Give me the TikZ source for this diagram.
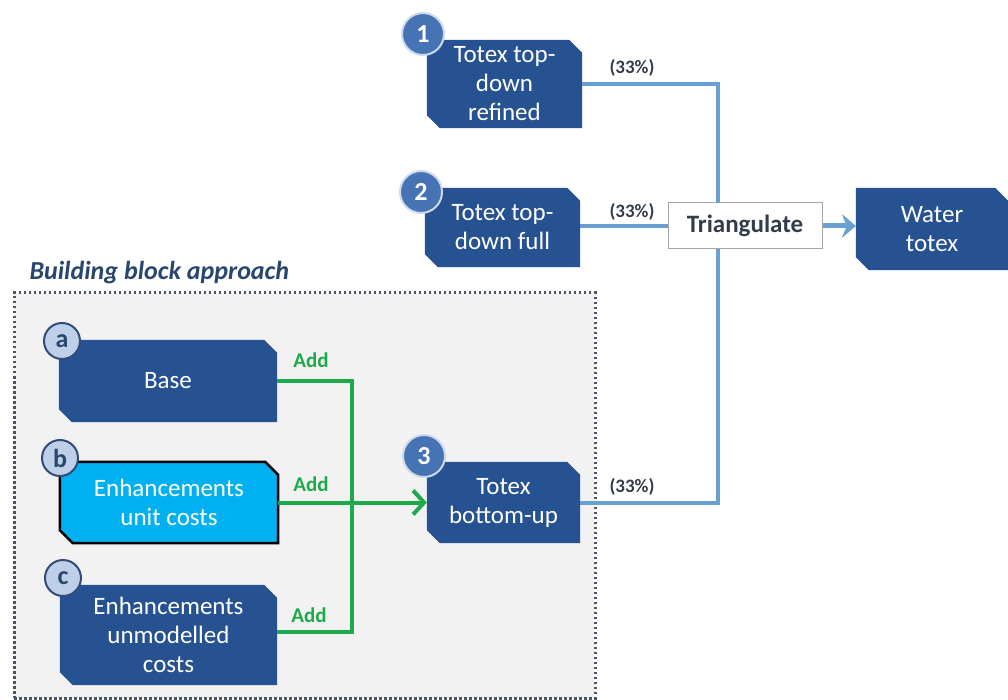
\documentclass[tikz,border=0pt]{standalone}
\usepackage{fontspec}
\setmainfont{Carlito}
\usetikzlibrary{arrows.meta,backgrounds}
\definecolor{boxblue}{RGB}{38,82,145}
\definecolor{lineblue}{RGB}{105,160,210}
\definecolor{addgreen}{RGB}{30,170,75}
\definecolor{panelgray}{RGB}{242,242,242}
\definecolor{dotgray}{RGB}{75,85,100}
\definecolor{titleblue}{RGB}{40,70,110}
\definecolor{numfill}{RGB}{70,115,180}
\definecolor{numring}{RGB}{205,218,236}
\definecolor{letfill}{RGB}{190,208,232}
\definecolor{letring}{RGB}{50,75,120}
\definecolor{cyanbox}{RGB}{0,176,240}
\definecolor{pctgray}{RGB}{50,60,75}
\begin{document}
\begin{tikzpicture}[x=1pt,y=-1pt,
  cb/.style={inner sep=0pt, text=white, align=center, font=\fontsize{25}{29}\selectfont},
  chamf/.style={insert path={(#1.north west) -- ([xshift=-13pt]#1.north east) -- ([yshift=-13pt]#1.north east) -- (#1.south east) -- ([xshift=13pt]#1.south west) -- ([yshift=13pt]#1.south west) -- cycle}},
  numc/.style={circle, minimum size=42pt, inner sep=0pt, fill=numfill, draw=numring, line width=2pt, text=white, font=\fontsize{26}{26}\selectfont\bfseries},
  letc/.style={circle, minimum size=36pt, inner sep=0pt, fill=letfill, draw=letring, line width=2pt, text=titleblue, font=\fontsize{26}{26}\selectfont\bfseries},
  bline/.style={draw=lineblue, line width=4pt},
  gline/.style={draw=addgreen, line width=4pt},
  addlbl/.style={text=addgreen, font=\fontsize{21}{21}\selectfont\bfseries},
  pct/.style={text=pctgray, font=\fontsize{19}{19}\selectfont\bfseries}
]
\useasboundingbox (0,0) rectangle (1008,700);

% boxes (text on main layer)
\node[cb, minimum width=155pt, minimum height=88pt] (n1) at (504.5,84) {Totex top-\\down\\refined};
\node[cb, minimum width=155pt, minimum height=79pt] (n2) at (502.5,227.5) {Totex top-\\down full};
\node[cb, minimum width=153pt, minimum height=81pt] (n3) at (503.5,502.5) {Totex\\bottom-up};
\node[cb, minimum width=152pt, minimum height=82pt] (water) at (932,229) {Water\\totex};
\node[cb, minimum width=218pt, minimum height=82pt] (ba) at (168,381) {Base};
\node[cb, minimum width=218pt, minimum height=81pt] (bb) at (169,502.5) {Enhancements\\unit costs};
\node[cb, minimum width=217pt, minimum height=100pt] (bc) at (168.5,635) {Enhancements\\unmodelled\\costs};

\begin{pgfonlayer}{background}
  % panel
  \node[draw=dotgray, fill=panelgray, line width=3pt, dash pattern=on 2.5pt off 2.5pt, minimum width=581pt, minimum height=405pt, inner sep=0pt] (panel) at (304.5,495.5) {};
  \foreach \n in {n1,n2,n3,water,ba,bc} \fill[boxblue, chamf=\n];
  \filldraw[fill=cyanbox, draw=black, line width=2.5pt, line join=miter, chamf=bb];
\end{pgfonlayer}
\node[text=titleblue, font=\fontsize{26}{26}\selectfont\bfseries\itshape, anchor=west] (title) at (26,273) {Building block approach};

% triangulate
\node[draw=gray!70, fill=white, line width=1pt, minimum width=154pt, minimum height=46pt, inner sep=0pt, text=pctgray, font=\fontsize{25}{25}\selectfont\bfseries] (tri) at (745,226) {Triangulate};
\coordinate (tn) at (718,203);
\coordinate (ts) at (718,249);

% blue connectors
\draw[bline] (n1.east) -| (tn);
\draw[bline] (n3.east) -| (ts);
\draw[bline] (n2.east |- tri.west) -- (tri.west);
\draw[bline, line width=5pt, -{Stealth[length=14pt,width=24pt,inset=5pt]}] (tri.east) -- (tri.east -| water.west);

\node[pct] (p1) at (632,68) {(33\%)};
\node[pct] (p2) at (632,212) {(33\%)};
\node[pct] (p3) at (632,487) {(33\%)};

% green connectors
\draw[gline, line join=miter] (ba.east) -| (352,632) -- (bc.east |- 352,632);
\draw[gline, -{Straight Barb[length=11pt,width=24pt]}] (bb.east) -- (n3.west);
\node[addlbl] (add1) at (311,360) {Add};
\node[addlbl] (add2) at (311,484) {Add};
\node[addlbl] (add3) at (309,615) {Add};

% number / letter circles
\node[numc] (c1) at (423,34) {1};
\node[numc] (c2) at (421,192) {2};
\node[numc] (c3) at (424,456) {3};
\node[letc] (ca) at (62,341) {a};
\node[letc] (cbb) at (60,458) {b};
\node[letc] (ccc) at (63,578) {c};
\end{tikzpicture}
\end{document}
